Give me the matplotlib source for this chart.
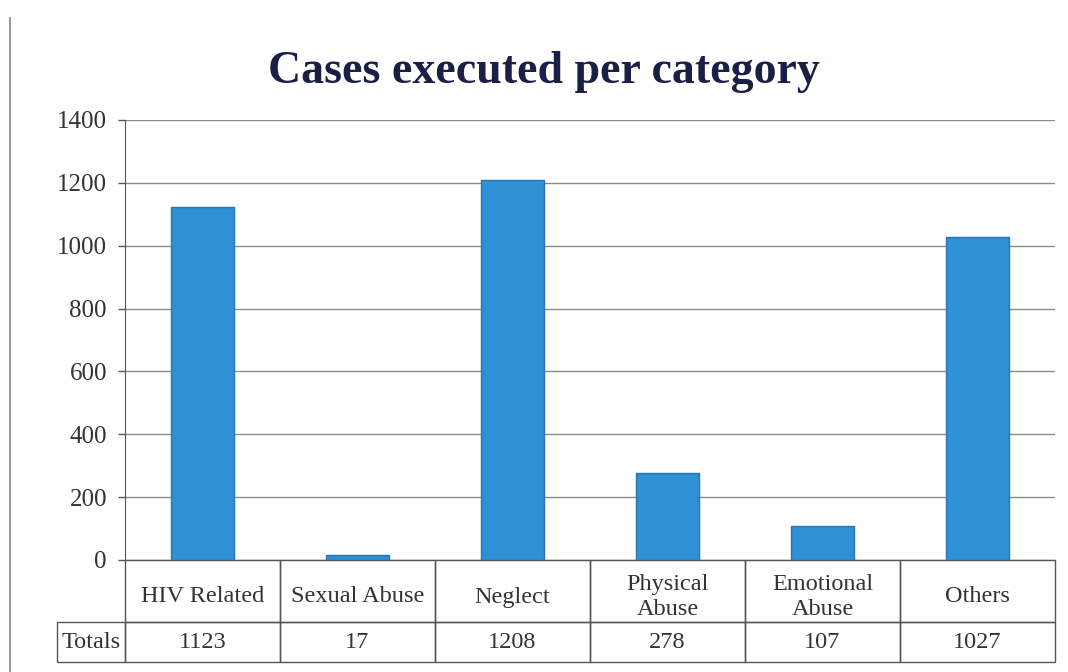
import matplotlib.pyplot as plt
import matplotlib.transforms as mtransforms
from matplotlib.lines import Line2D
from matplotlib.patches import Rectangle

categories = ["HIV Related", "Sexual Abuse", "Neglect", "Physical\nAbuse", "Emotional\nAbuse", "Others"]
totals = [1123, 17, 1208, 278, 107, 1027]
yticks = [0, 200, 400, 600, 800, 1000, 1200, 1400]

plt.rcParams['font.family'] = ['Liberation Serif', 'DejaVu Serif']

fig = plt.figure(figsize=(10.68, 6.72), dpi=100)
ax = fig.add_axes([125/1068, 112/672, 930/1068, 440/672])

x = list(range(len(categories)))
ax.bar(x, totals, width=0.41, color='#2f90d6', edgecolor='#2a74b2', linewidth=1.0, zorder=3)

ax.set_xlim(-0.5, len(categories) - 0.5)
ax.set_ylim(0, 1400)
ax.set_yticks(yticks)
ax.set_yticklabels([str(v) for v in yticks], fontsize=18, color='#333333')
ax.tick_params(axis='y', length=5, width=1, color='#555555', pad=8)
ax.set_xticks([])
ax.grid(axis='y', color='#8a8a8a', linewidth=1, zorder=0)
for s in ['top', 'right', 'bottom']:
    ax.spines[s].set_visible(False)
ax.spines['left'].set_color('#555555')

# data table under the plot: x in category units, y in axes fraction
trans = mtransforms.blended_transform_factory(ax.transData, ax.transAxes)
head_h = 62 / 440
row_h = 40 / 440
label_w = 68 / 155
edge = '#555555'
for i, (cat, val) in enumerate(zip(categories, totals)):
    ax.add_patch(Rectangle((i - 0.5, -head_h), 1, head_h, transform=trans,
                           fill=False, edgecolor=edge, linewidth=1, clip_on=False))
    ax.add_patch(Rectangle((i - 0.5, -head_h - row_h), 1, row_h, transform=trans,
                           fill=False, edgecolor=edge, linewidth=1, clip_on=False))
    ax.text(i, -37 / 440, cat, transform=trans, ha='center', va='center',
            fontsize=17.5, color='#333333', linespacing=1.3)
    ax.text(i, -head_h - row_h / 2, str(val), transform=trans, ha='center', va='center',
            fontsize=17.5, color='#333333')
ax.add_patch(Rectangle((-0.5 - label_w, -head_h - row_h), label_w, row_h, transform=trans,
                       fill=False, edgecolor=edge, linewidth=1, clip_on=False))
ax.text(-0.5 - label_w / 2, -head_h - row_h / 2, "Totals", transform=trans,
        ha='center', va='center', fontsize=17.5, color='#333333')

fig.text(0.509, 0.893, "Cases executed per category", ha='center', va='center',
         fontsize=33, fontweight='bold', color='#1a1f45')

fig.add_artist(Line2D([10/1068, 10/1068], [0, 1 - 18/672], color='#888888', linewidth=1.2))

plt.savefig("out.png", dpi=100)
